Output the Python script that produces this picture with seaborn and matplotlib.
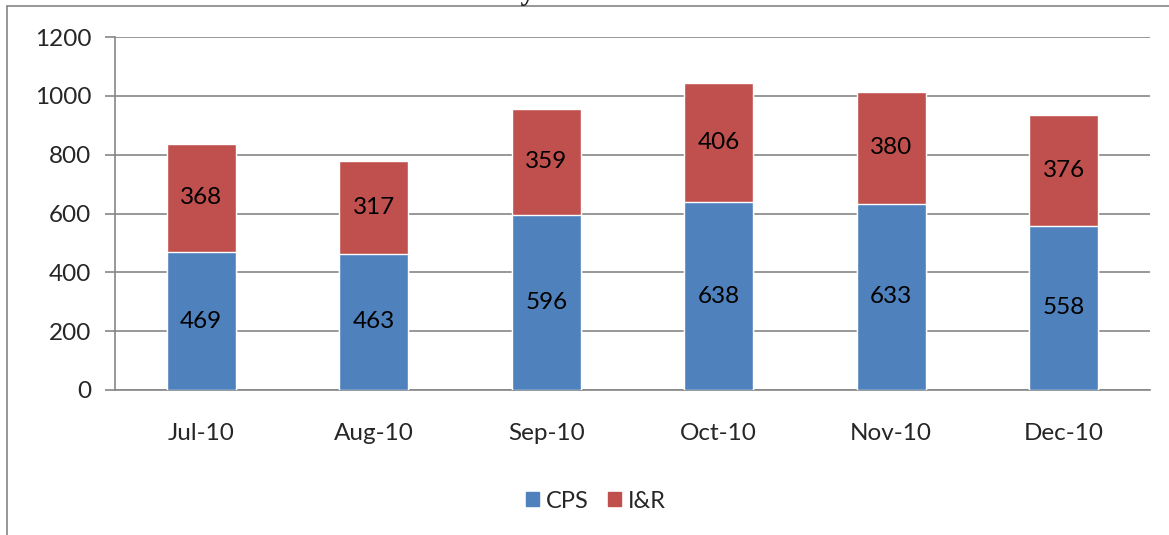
import matplotlib
matplotlib.use("Agg")
import matplotlib.pyplot as plt
import matplotlib.patches as mpatches
from matplotlib.lines import Line2D
import seaborn as sns
import pandas as pd
import numpy as np

# Chart data
months = ['Jul-10', 'Aug-10', 'Sep-10', 'Oct-10', 'Nov-10', 'Dec-10']
cps = [469, 463, 596, 638, 633, 558]
ir = [368, 317, 359, 406, 380, 376]

blue = '#4F81BD'
red = '#C0504D'
grey = '#868686'

df = pd.DataFrame({'Month': months, 'CPS': cps, 'I&R': ir})
df['Total'] = df['CPS'] + df['I&R']

sns.set_style('white')
plt.rcParams['font.family'] = ['Lato', 'DejaVu Sans']

fig = plt.figure(figsize=(11.69, 5.35), dpi=100)
ax = fig.add_axes([115 / 1169, 1 - 390 / 535, (1150 - 115) / 1169, (390 - 37) / 535])

# stacked bars: total in red, CPS in blue over it
sns.barplot(data=df, x='Month', y='Total', color=red, width=0.4, saturation=1, ax=ax, zorder=3)
sns.barplot(data=df, x='Month', y='CPS', color=blue, width=0.4, saturation=1, ax=ax, zorder=4)

for i, row in df.iterrows():
    ax.text(i, row['CPS'] / 2, str(row['CPS']), ha='center', va='center', fontsize=17.5, color='black', zorder=5)
    ax.text(i, row['CPS'] + row['I&R'] / 2, str(row['I&R']), ha='center', va='center', fontsize=17.5, color='black', zorder=5)

ax.set_xlim(-0.5, len(months) - 0.5)
ax.set_ylim(0, 1200)
ax.set_yticks(range(0, 1201, 200))
ax.set_xlabel('')
ax.set_ylabel('')
ax.yaxis.grid(True, color=grey, linewidth=1.2)
ax.set_axisbelow(True)

for s in ['top', 'right']:
    ax.spines[s].set_visible(False)
for s in ['left', 'bottom']:
    ax.spines[s].set_color(grey)
    ax.spines[s].set_linewidth(1.2)

# ticks between categories, Excel style
ax.set_xticks(np.arange(-0.5, len(months), 1.0), minor=True)
ax.tick_params(axis='x', which='major', length=0, pad=24, labelsize=17.5)
ax.tick_params(axis='x', which='minor', length=7, color=grey, width=1.2, direction='out')
ax.tick_params(axis='y', which='major', length=7, color=grey, width=1.2, direction='out', pad=10, labelsize=17.5, left=True)

# legend
handles = [mpatches.Patch(color=blue, label='CPS'), mpatches.Patch(color=red, label='I&R')]
fig.legend(handles=handles, loc='center', bbox_to_anchor=(0.51, 1 - 501 / 535), ncol=2, frameon=False,
           fontsize=17, handlelength=0.55, handleheight=0.55, handletextpad=0.3, columnspacing=0.8)

# outer chart border (runs off the right and bottom edges)
fig.add_artist(Line2D([7 / 1169, 7 / 1169], [0, 1 - 6 / 535], transform=fig.transFigure, color=grey, linewidth=1.2))
fig.add_artist(Line2D([7 / 1169, 1], [1 - 6 / 535, 1 - 6 / 535], transform=fig.transFigure, color=grey, linewidth=1.2))

# title, clipped by the top edge as in the source
fig.text(0.505, 1 + 1 / 535, 'Daily Intake Trend', ha='center', va='baseline', fontsize=22,
         fontweight='bold', family=['Liberation Serif', 'DejaVu Serif'])

fig.savefig('out.png', dpi=100)
